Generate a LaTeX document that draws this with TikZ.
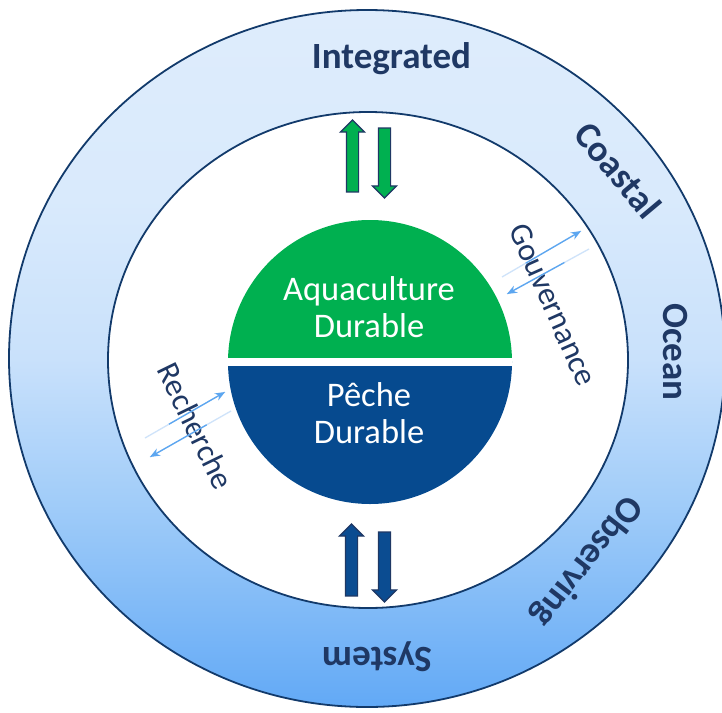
\documentclass[tikz,border=0pt]{standalone}
\usepackage{fontspec}
\setmainfont{Carlito}
\usetikzlibrary{shapes.arrows,arrows.meta,calc}
\definecolor{navy}{HTML}{1F3864}
\definecolor{ringline}{HTML}{123A6B}
\definecolor{aquagreen}{HTML}{00B050}
\definecolor{pecheblue}{HTML}{064A8F}
\definecolor{arrblue}{HTML}{0B4C91}
\definecolor{thinblue}{HTML}{5CA6F0}
\definecolor{paleblue}{HTML}{CFE3FA}
\pgfdeclareverticalshading{ringshade}{100bp}{%
  color(0bp)=(rgb,255:red,98;green,169;blue,246);
  color(25bp)=(rgb,255:red,98;green,169;blue,246);
  color(32.5bp)=(rgb,255:red,130;green,187;blue,247);
  color(40bp)=(rgb,255:red,162;green,205;blue,249);
  color(50bp)=(rgb,255:red,201;green,225;blue,251);
  color(61.5bp)=(rgb,255:red,217;green,234;blue,252);
  color(75bp)=(rgb,255:red,222;green,236;blue,252);
  color(100bp)=(rgb,255:red,222;green,236;blue,252)}
\tikzset{
  ringtext/.style={text=navy, font=\fontsize{37}{44}\selectfont\bfseries, inner sep=0pt},
  sidetext/.style={text=navy, font=\fontsize{32}{36}\selectfont, inner sep=0pt},
  centertext/.style={text=white, font=\fontsize{34.5}{37}\selectfont, align=center, inner sep=0pt, anchor=base},
  blockarr/.style={single arrow, single arrow head extend=6pt, single arrow head indent=0pt,
     inner xsep=0pt, inner ysep=5.5pt, line width=1.2pt, draw=navy},
  greenarr/.style={blockarr, fill=aquagreen},
  bluearr/.style={blockarr, fill=arrblue},
  paleline/.style={draw=paleblue, line width=1.3pt},
  thinarr/.style={draw=thinblue, line width=1.3pt, -{Stealth[length=10pt,width=8pt]}}
}
\begin{document}
\begin{tikzpicture}[x=1pt,y=-1pt]
\useasboundingbox (0,0) rectangle (722,712);
\clip (0,0) rectangle (722,712);
% outer ring
\path[draw=ringline, line width=1.8pt, shading=ringshade]
  (367,358.5) ellipse [x radius=358, y radius=348.5];
% inner white disc
\path[draw=ringline, line width=1.8pt, fill=white] (368,360) ellipse [x radius=260, y radius=248];
% central disc
\begin{scope}
  \clip (370,362) circle [radius=142];
  \fill[aquagreen] (220,200) rectangle (520,362);
  \fill[pecheblue] (220,362) rectangle (520,520);
  \fill[white] (220,358) rectangle (520,366);
\end{scope}
\node[centertext] (aqua) at (369,337) {Aquaculture\\Durable};
\node[centertext] (peche) at (369,443) {Pêche\\Durable};
% ring words
\node[ringtext, anchor=base] (integrated) at (391.5,68) {Integrated};
\node[ringtext, rotate=-50] (coastal) at (618,170) {Coastal};
\node[ringtext, rotate=-90] (ocean) at (675,352) {Ocean};
\node[ringtext, rotate=-128] (observing) at (586,561) {Observing};
\node[ringtext, rotate=180] (system) at (377,657) {System};
% side words
\node[sidetext, rotate=-66] (gouv) at (553,305) {Gouvernance};
\node[sidetext, rotate=-64] (rech) at (196,426) {Recherche};
% block arrows
\node[greenarr, rotate=90, minimum height=72pt] (tup) at (352.5,159) {};
\node[greenarr, rotate=-90, minimum height=70pt] (tdown) at (384.5,160) {};
\node[bluearr, rotate=90, minimum height=72pt] (bup) at (351.5,563) {};
\node[bluearr, rotate=-90, minimum height=70pt] (bdown) at (384.5,564) {};
% thin arrows (Gouvernance)
\coordinate (g1s) at (502,277); \coordinate (g1e) at (581,231);
\coordinate (g2s) at (589,249); \coordinate (g2e) at (507,294);
\draw[paleline] (g1s) -- (g1e);
\draw[thinarr] ($(g1s)!0.3!(g1e)$) -- (g1e);
\draw[paleline] (g2s) -- (g2e);
\draw[thinarr] ($(g2s)!0.3!(g2e)$) -- (g2e);
% thin arrows (Recherche)
\coordinate (r1s) at (145,438); \coordinate (r1e) at (225,392);
\coordinate (r2s) at (231,411); \coordinate (r2e) at (150,457);
\draw[paleline] (r1s) -- (r1e);
\draw[thinarr] ($(r1s)!0.3!(r1e)$) -- (r1e);
\draw[paleline] (r2s) -- (r2e);
\draw[thinarr] ($(r2s)!0.3!(r2e)$) -- (r2e);
\end{tikzpicture}
\end{document}
